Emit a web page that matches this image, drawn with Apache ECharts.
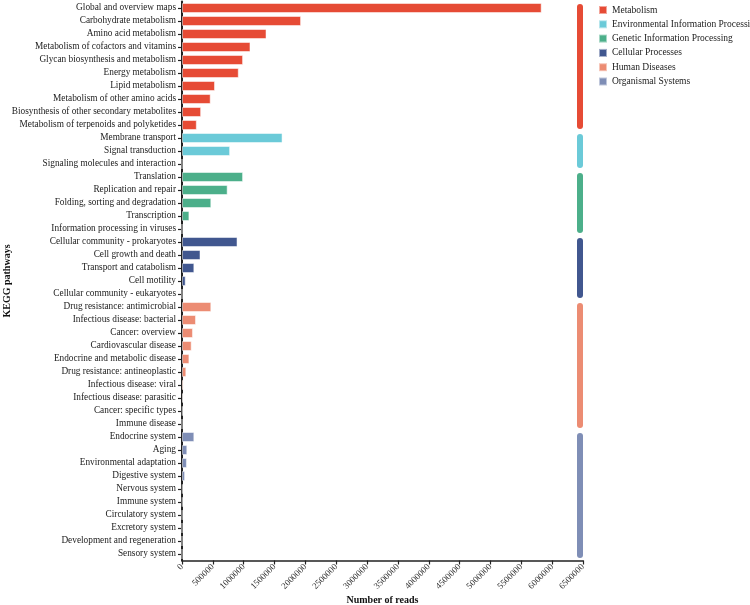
<!DOCTYPE html>
<html>
<head>
<meta charset="utf-8">
<script src="https://cdn.jsdelivr.net/npm/echarts@6/dist/echarts.min.js"></script>
<style>
  html, body { margin: 0; padding: 0; background: #fff; }
  #keggChart { width: 750px; height: 605px; }
</style>
</head>
<body>
<div id="keggChart"></div>
<script>
// KEGG 通路注释 - 各通路reads数
const pathways = [
  'Global and overview maps', 'Carbohydrate metabolism', 'Amino acid metabolism',
  'Metabolism of cofactors and vitamins', 'Glycan biosynthesis and metabolism', 'Energy metabolism',
  'Lipid metabolism', 'Metabolism of other amino acids', 'Biosynthesis of other secondary metabolites',
  'Metabolism of terpenoids and polyketides',
  'Membrane transport', 'Signal transduction', 'Signaling molecules and interaction',
  'Translation', 'Replication and repair', 'Folding, sorting and degradation', 'Transcription',
  'Information processing in viruses',
  'Cellular community - prokaryotes', 'Cell growth and death', 'Transport and catabolism',
  'Cell motility', 'Cellular community - eukaryotes',
  'Drug resistance: antimicrobial', 'Infectious disease: bacterial', 'Cancer: overview',
  'Cardiovascular disease', 'Endocrine and metabolic disease', 'Drug resistance: antineoplastic',
  'Infectious disease: viral', 'Infectious disease: parasitic', 'Cancer: specific types', 'Immune disease',
  'Endocrine system', 'Aging', 'Environmental adaptation', 'Digestive system', 'Nervous system',
  'Immune system', 'Circulatory system', 'Excretory system', 'Development and regeneration', 'Sensory system'
]
const reads = [
  5830000, 1930000, 1370000, 1110000, 990000, 920000, 535000, 465000, 310000, 240000,
  1630000, 780000, 0,
  990000, 740000, 475000, 120000, 0,
  900000, 300000, 200000, 60000, 0,
  475000, 227000, 178000, 157000, 120000, 70000, 25000, 18000, 10000, 0,
  200000, 86000, 80000, 50000, 10000, 8000, 3000, 0, 0, 0
]
// 每个通路所属的一级分类
const levelNames = [
  'Metabolism', 'Environmental Information Processing', 'Genetic Information Processing',
  'Cellular Processes', 'Human Diseases', 'Organismal Systems'
]
const levelCounts = [10, 3, 5, 5, 10, 10]
const levelColors = ['#E64B35', '#6BCAD8', '#4CAF8A', '#41578F', '#EC8C73', '#7F8EB6']
const xTicks = { min: 0, max: 6500000, interval: 500000 }

const chart = echarts.init(document.getElementById('keggChart'))
const serif = 'Liberation Serif, Times New Roman, serif'

// 组装每个分类的柱子和右侧色条
const series = []
const stripData = []
let start = 0
levelNames.forEach((name, g) => {
  const end = start + levelCounts[g] - 1
  const data = pathways.map((p, i) => (i >= start && i <= end) ? reads[i] : '-')
  series.push({
    name: name,
    type: 'bar',
    stack: 'all',
    data: data,
    barWidth: 10,
    itemStyle: {
      color: levelColors[g],
      borderColor: 'rgba(255,255,255,0.5)',
      borderWidth: 1
    }
  })
  stripData.push([xTicks.max, start, end, g])
  start = end + 1
})

series.push({
  name: 'strip',
  type: 'custom',
  clip: false,
  silent: true,
  encode: { x: 0, y: 1 },
  data: stripData,
  renderItem: function (params, api) {
    const top = api.coord([api.value(0), api.value(1)])
    const bottom = api.coord([api.value(0), api.value(2)])
    const band = api.size([0, 1])[1]
    const y0 = top[1] - band / 2 + 2.5
    const y1 = bottom[1] + band / 2 - 2.5
    return {
      type: 'rect',
      shape: { x: top[0] - 6, y: y0, width: 6, height: y1 - y0, r: 3 },
      style: { fill: levelColors[api.value(3)] }
    }
  }
})

const option = {
  backgroundColor: '#fff',
  animation: false,
  textStyle: { fontFamily: serif },
  legend: {
    data: levelNames,
    orient: 'vertical',
    left: 593,
    top: 0,
    itemWidth: 8,
    itemHeight: 8,
    itemGap: 4.3,
    icon: 'rect',
    textStyle: { fontFamily: serif, fontSize: 9.5, color: '#222', lineHeight: 10 }
  },
  grid: {
    left: 182,
    right: 167,
    top: 1.5,
    bottom: 44.5,
    containLabel: false,
    outerBoundsMode: 'none'
  },
  xAxis: {
    type: 'value',
    min: xTicks.min,
    max: xTicks.max,
    interval: xTicks.interval,
    name: 'Number of reads',
    nameLocation: 'middle',
    nameGap: 35,
    nameMoveOverlap: false,
    nameTextStyle: { fontFamily: serif, fontSize: 10, fontWeight: 'bold', color: '#111' },
    axisLine: { show: true, lineStyle: { color: '#222', width: 1.5 } },
    axisTick: { show: true, length: 4, lineStyle: { color: '#222', width: 1.2 } },
    axisLabel: {
      rotate: 45, fontSize: 9, color: '#333', margin: 5, fontFamily: serif,
      formatter: function (v) { return String(v) }
    },
    splitLine: { show: false }
  },
  yAxis: {
    type: 'category',
    inverse: true,
    data: pathways,
    name: 'KEGG pathways',
    nameLocation: 'middle',
    nameGap: 170,
    nameRotate: 90,
    nameMoveOverlap: false,
    nameTextStyle: { fontFamily: serif, fontSize: 10, fontWeight: 'bold', color: '#111' },
    axisLine: { show: true, lineStyle: { color: '#222', width: 2 } },
    axisTick: { show: true, length: 4, alignWithLabel: true, lineStyle: { color: '#222', width: 1.2 } },
    axisLabel: { fontSize: 9.3, color: '#222', margin: 6, fontFamily: serif, interval: 0 }
  },
  series: series
}
chart.setOption(option)
</script>
</body>
</html>
